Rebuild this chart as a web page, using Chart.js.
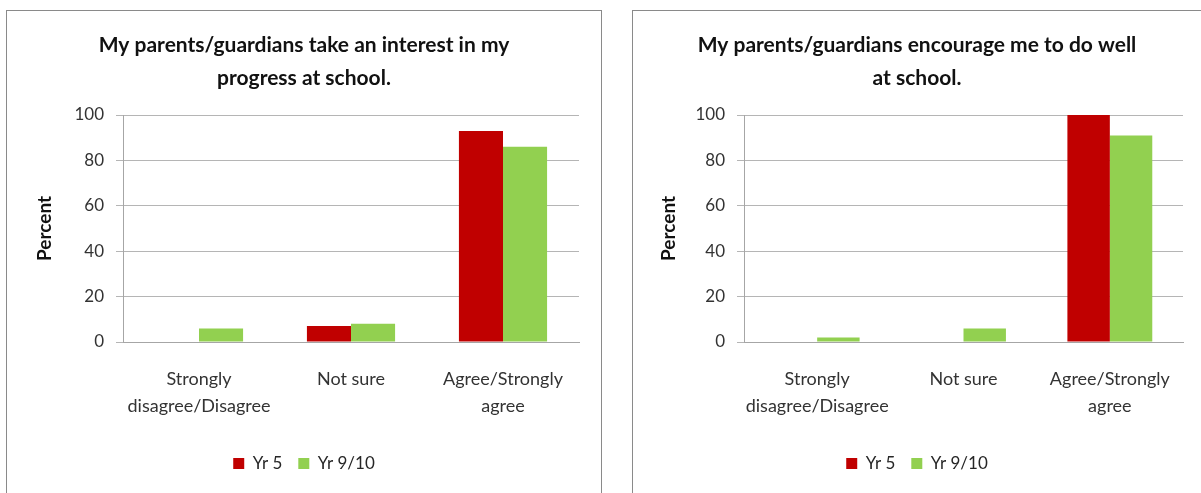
<!DOCTYPE html>
<html>
<head>
<meta charset="utf-8">
<script src="https://cdn.jsdelivr.net/npm/chart.js@4/dist/chart.umd.min.js"></script>
<style>
  html, body { margin: 0; padding: 0; background: #fff; overflow: hidden; }
  body { width: 1201px; height: 493px; position: relative; }
  .panel { position: absolute; top: 10px; border: 1px solid #8a8a8a; background: #fff; }
  #panelLeft { left: 6px; width: 594px; height: 490px; }
  #panelRight { left: 632px; width: 568px; height: 490px; }
  canvas { display: block; }
</style>
</head>
<body>
<div class="panel" id="panelLeft"><canvas id="chartInterest" width="594" height="482"></canvas></div>
<div class="panel" id="panelRight"><canvas id="chartEncourage" width="568" height="482"></canvas></div>

<script>
// --- Datos ---
const categories = [['Strongly', 'disagree/Disagree'], 'Not sure', ['Agree/Strongly', 'agree']];
const seriesNames = ['Yr 5', 'Yr 9/10'];
const seriesColors = ['#C00000', '#92D050'];

const interestTitle = ['My parents/guardians take an interest in my', 'progress at school.'];
const interestYr5 = [0, 7, 93];
const interestYr910 = [6, 8, 86];

const encourageTitle = ['My parents/guardians encourage me to do well', 'at school.'];
const encourageYr5 = [0, 0, 100];
const encourageYr910 = [2, 6, 91];

const yMin = 0;
const yMax = 100;
const yStep = 20;
const yAxisTitle = 'Percent';

Chart.defaults.font.family = 'Lato, "Open Sans", sans-serif';
Chart.defaults.color = '#262626';

// --- Funciones ---
function makeChart(canvasId, titleLines, yr5, yr910, g) {
    const ctx = document.getElementById(canvasId).getContext('2d');
    return new Chart(ctx, {
        type: 'bar',
        data: {
            labels: categories,
            datasets: [
                { label: seriesNames[0], data: yr5, backgroundColor: seriesColors[0] },
                { label: seriesNames[1], data: yr910, backgroundColor: seriesColors[1] }
            ]
        },
        options: {
            responsive: false,
            animation: false,
            devicePixelRatio: 1,
            layout: { padding: { left: 0, right: 0, top: 0, bottom: 11 } },
            datasets: {
                bar: { categoryPercentage: 0.58, barPercentage: 1.0, borderWidth: 0 }
            },
            scales: {
                x: {
                    grid: { display: false },
                    border: { display: true, color: '#a6a6a6', width: 1 },
                    ticks: {
                        padding: 16,
                        color: '#333',
                        font: { size: 18, lineHeight: '27px' },
                        maxRotation: 0,
                        autoSkip: false
                    },
                    afterFit: (s) => { s.height = g.xHeight; }
                },
                y: {
                    min: yMin,
                    max: yMax,
                    ticks: { stepSize: yStep, padding: 12, color: '#333', font: { size: 17 } },
                    grid: { color: '#b5b5b5', lineWidth: 1, tickLength: 7, drawTicks: true },
                    border: { display: true, color: '#a6a6a6', width: 1 },
                    title: {
                        display: true,
                        text: yAxisTitle,
                        color: '#111',
                        font: { size: 19, weight: 'bold' },
                        padding: { top: g.yTitlePad, bottom: 0 }
                    },
                    afterFit: (s) => { s.width = g.yWidth; }
                },
                // eje vacío a la derecha, solo para reservar espacio
                y2: {
                    position: 'right',
                    display: true,
                    grid: { display: false },
                    border: { display: false },
                    ticks: { display: false },
                    afterFit: (s) => { s.width = g.rightGap; }
                }
            },
            plugins: {
                title: {
                    display: true,
                    text: titleLines,
                    color: '#111',
                    font: { size: 21, weight: 'bold', lineHeight: '33px' },
                    padding: { top: 17.5, bottom: 20.5 }
                },
                legend: {
                    position: 'bottom',
                    labels: {
                        boxWidth: 11,
                        boxHeight: 11,
                        padding: 16,
                        color: '#262626',
                        font: { size: 17 }
                    }
                },
                tooltip: { enabled: false }
            }
        }
    });
}

makeChart('chartInterest', interestTitle, interestYr5, interestYr910,
    { yWidth: 116, rightGap: 22, yTitlePad: 26, xHeight: 97 });
makeChart('chartEncourage', encourageTitle, encourageYr5, encourageYr910,
    { yWidth: 111, rightGap: 18, yTitlePad: 24, xHeight: 97 });
</script>
</body>
</html>
